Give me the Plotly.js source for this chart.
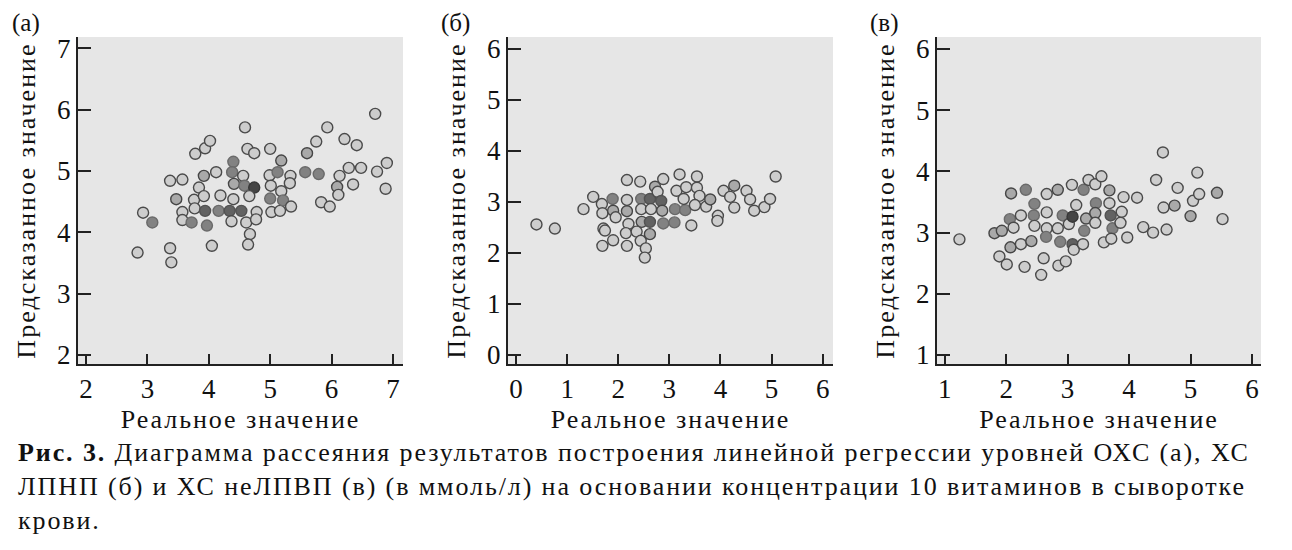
<!DOCTYPE html>
<html>
<head>
<meta charset="utf-8">
<script src="https://cdn.plot.ly/plotly-3.0.1.min.js"></script>
<style>
html,body{margin:0;padding:0;background:#fff;}
#wrap{position:relative;width:1292px;height:550px;}
#chart{position:absolute;left:0;top:0;width:1292px;height:550px;}
#caption{position:absolute;left:18px;top:436px;width:1274px;white-space:nowrap;font-family:'Liberation Serif','DejaVu Serif',serif;font-size:26px;line-height:34px;letter-spacing:1.9px;color:#111;}
#chart .xtitle, #chart .x2title, #chart .x3title {letter-spacing:1.95px;}
#chart .ytitle, #chart .y2title, #chart .y3title {letter-spacing:2.05px;}
</style>
</head>
<body>
<div id="wrap">
<div id="chart"></div>
<div id="caption"></div>
</div>
<script>
// Panel (а): ОХС — real vs predicted (ммоль/л); count = coinciding observations
const aX = [2.84,2.93,3.08,3.37,3.39,3.37,3.57,3.47,3.57,3.57,3.72,3.78,3.94,4.02,3.84,3.92,3.76,3.92,3.77,3.94,3.97,4.05,4.12,4.19,4.16,4.34,4.53,4.40,4.38,4.41,4.40,4.37,4.59,4.63,4.74,4.56,4.58,4.74,4.66,4.61,4.78,4.77,4.67,4.64,5.00,4.99,5.01,5.00,5.02,5.12,5.18,5.18,5.16,5.21,5.33,5.32,5.34,5.57,5.60,5.75,5.79,5.93,5.83,5.97,6.09,6.11,6.13,6.21,6.28,6.35,6.41,6.48,6.71,6.74,6.90,6.88];
const aY = [3.67,4.32,4.16,3.74,3.51,4.84,4.86,4.54,4.33,4.20,4.16,5.28,5.37,5.49,4.73,4.92,4.53,4.59,4.39,4.35,4.11,3.78,4.98,4.60,4.35,4.35,4.35,5.15,4.98,4.79,4.54,4.18,5.71,5.36,5.29,4.92,4.76,4.73,4.59,4.16,4.33,4.21,3.97,3.80,5.36,4.93,4.76,4.55,4.33,4.98,5.17,4.67,4.35,4.52,4.92,4.80,4.42,4.98,5.29,5.48,4.95,5.71,4.49,4.42,4.74,4.61,4.92,5.52,5.05,4.78,5.42,5.05,5.93,4.99,5.13,4.71];
const aCount = [1,1,3,1,1,1,1,2,1,1,3,1,1,1,1,2,1,1,1,4,3,1,1,1,3,4,4,3,3,2,1,1,1,1,1,1,3,5,1,1,1,1,1,1,1,1,1,3,1,3,2,1,1,3,1,1,1,3,2,1,3,1,1,1,2,1,1,1,1,1,1,1,1,1,1,1];

// Panel (б): ХС ЛПНП
const bX = [0.40,0.76,1.32,1.51,1.68,1.69,1.71,1.74,1.69,1.89,1.90,1.95,1.90,2.17,2.17,2.17,2.20,2.15,2.17,2.43,2.45,2.45,2.46,2.36,2.44,2.54,2.52,2.62,2.64,2.62,2.62,2.72,2.77,2.84,2.86,2.88,2.88,3.11,3.10,3.20,3.14,3.31,3.28,3.33,3.54,3.54,3.59,3.50,3.43,3.72,3.80,3.95,3.94,4.06,4.19,4.27,4.27,4.51,4.58,4.66,4.86,4.97,5.08];
const bY = [2.56,2.48,2.86,3.10,2.96,2.78,2.48,2.44,2.14,3.06,2.83,2.70,2.25,3.43,3.04,2.82,2.57,2.39,2.14,3.40,3.06,2.86,2.61,2.42,2.24,2.09,1.91,3.06,2.86,2.61,2.37,3.30,3.20,3.02,2.83,3.45,2.58,2.86,2.60,3.54,3.22,2.84,3.06,3.29,3.50,3.28,3.12,2.94,2.54,2.91,3.05,2.73,2.63,3.22,3.10,3.32,2.89,3.22,3.05,2.83,2.90,3.06,3.50];
const bCount = [1,1,1,1,1,1,1,1,1,3,2,1,1,1,1,2,1,1,1,1,3,1,2,1,1,1,1,4,1,4,2,2,1,4,2,1,3,3,3,1,1,3,1,1,1,1,1,1,1,1,2,1,1,1,1,2,1,1,1,1,1,1,1];

// Panel (в): ХС неЛПВП
const cX = [1.24,1.81,1.93,1.89,2.01,2.08,2.06,2.12,2.07,2.24,2.24,2.32,2.46,2.45,2.46,2.41,2.30,2.61,2.57,2.66,2.66,2.66,2.65,2.84,2.84,2.85,2.97,2.92,2.88,3.02,3.07,3.08,3.14,3.08,3.10,3.26,3.27,3.30,3.25,3.34,3.45,3.55,3.46,3.45,3.45,3.59,3.68,3.68,3.70,3.73,3.71,3.86,3.88,3.91,3.97,4.13,4.23,4.39,4.44,4.55,4.56,4.61,4.74,4.79,5.00,5.04,5.11,5.14,5.43,5.52];
const cY = [2.89,2.99,3.03,2.61,2.48,3.64,3.22,3.08,2.76,3.28,2.81,3.70,3.47,3.28,3.11,2.86,2.44,2.58,2.31,3.63,3.33,3.07,2.93,3.70,3.07,2.46,2.53,3.28,2.85,3.14,3.78,3.26,3.45,2.81,2.72,3.70,3.03,3.23,2.81,3.86,3.79,3.92,3.48,3.32,3.16,2.84,3.69,3.48,3.28,3.07,2.90,3.16,3.34,3.58,2.92,3.57,3.09,3.00,3.86,4.31,3.41,3.05,3.44,3.73,3.27,3.52,3.98,3.63,3.65,3.22];
const cCount = [1,2,2,1,1,2,3,1,2,1,1,3,3,3,1,2,1,1,1,1,1,1,3,2,1,1,1,3,3,1,1,5,1,4,1,3,3,2,1,1,1,1,3,2,1,1,2,1,4,3,1,1,1,1,1,1,1,1,1,1,1,1,2,1,2,1,1,1,2,1];

const panelLabels = ['(а)', '(б)', '(в)'];
const xTitle = 'Реальное значение';
const yTitle = 'Предсказанное значение';
const caption = [
  '<b>Рис. 3.</b> Диаграмма рассеяния результатов построения линейной регрессии уровней ОХС (а), ХС',
  'ЛПНП (б) и ХС неЛПВП (в) (в ммоль/л) на основании концентрации 10 витаминов в сыворотке',
  'крови.'
];

const fillByCount = {1:'#cdcdcd', 2:'#a9a9a9', 3:'#828282', 4:'#626262', 5:'#454545'};
const lineByCount = {1:'#4a4a4a', 2:'#454545', 3:'#6a6a6a', 4:'#525252', 5:'#383838'};
const FONT = "'Liberation Serif', 'DejaVu Serif', serif";

function trace(x, y, cnt, xa, ya) {
  return {
    type: 'scatter', mode: 'markers', x: x, y: y, xaxis: xa, yaxis: ya,
    hoverinfo: 'x+y',
    marker: {
      size: 11,
      color: cnt.map(c => fillByCount[c]),
      line: {width: 1.4, color: cnt.map(c => lineByCount[c])}
    },
    showlegend: false
  };
}

const data = [
  trace(aX, aY, aCount, 'x', 'y'),
  trace(bX, bY, bCount, 'x2', 'y2'),
  trace(cX, cY, cCount, 'x3', 'y3')
];

const W = 1292, H = 550;
function px(a, b) { return [a / W, b / W]; }
function py(top, bottom) { return [(H - bottom) / H, (H - top) / H]; }

function xaxis(dom, range, ya) {
  return {
    domain: dom, range: range, anchor: ya, dtick: 1, tick0: 0,
    showgrid: false, zeroline: false, showline: true, linecolor: '#222', linewidth: 2,
    ticks: 'inside', ticklen: 10, tickwidth: 2, tickcolor: '#222',
    tickfont: {family: FONT, size: 27, color: '#111'},
    title: {text: xTitle, font: {family: FONT, size: 26, color: '#111'}, standoff: 6},
    fixedrange: true
  };
}
function yaxis(dom, range, xa) {
  return {
    domain: dom, range: range, anchor: xa, dtick: 1, tick0: 0,
    showgrid: false, zeroline: false, showline: true, linecolor: '#222', linewidth: 2,
    ticks: 'inside', ticklen: 13, tickwidth: 2, tickcolor: '#222',
    tickfont: {family: FONT, size: 27, color: '#111'},
    title: {text: yTitle, font: {family: FONT, size: 26, color: '#111'}, standoff: 14},
    fixedrange: true
  };
}

const yd = py(37, 364);
const layout = {
  width: W, height: H,
  margin: {l: 0, r: 0, t: 0, b: 0},
  paper_bgcolor: '#ffffff',
  font: {family: FONT, color: '#111'},
  xaxis: xaxis(px(78, 403), [1.870, 7.163], 'y'),
  yaxis: yaxis(yd, [1.853, 7.184], 'x'),
  xaxis2: xaxis(px(508, 833), [-0.157, 6.202], 'y2'),
  yaxis2: yaxis(yd, [-0.176, 6.235], 'x2'),
  xaxis3: xaxis(px(937, 1261), [0.875, 6.146], 'y3'),
  yaxis3: yaxis(yd, [0.853, 6.196], 'x3'),
  shapes: [
    [78, 403], [508, 833], [937, 1261]
  ].map(d => ({type: 'rect', xref: 'paper', yref: 'paper', layer: 'below',
    x0: d[0] / W, x1: d[1] / W, y0: yd[0], y1: yd[1],
    fillcolor: '#e6e6e6', line: {width: 0}})),
  annotations: panelLabels.map((t, i) => ({
      text: t, xref: 'paper', yref: 'paper', x: [10, 439, 868][i] / W, y: (H - 23) / H,
      xanchor: 'left', yanchor: 'middle', showarrow: false,
      font: {family: FONT, size: 25, color: '#111'}
  }))
};

document.getElementById('caption').innerHTML = caption.join('<br>');
Plotly.newPlot('chart', data, layout, {displayModeBar: false});
</script>
</body>
</html>
